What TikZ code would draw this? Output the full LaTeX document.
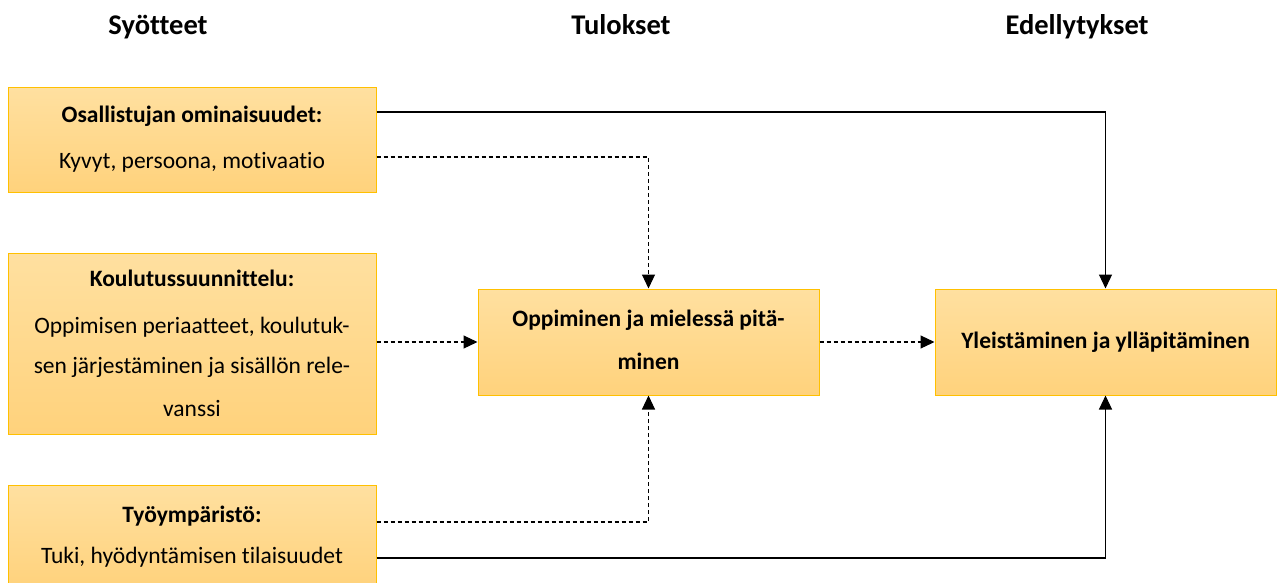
\documentclass[tikz,border=0pt]{standalone}
\usepackage{fontspec}
\setmainfont[Ligatures=NoCommon]{Carlito}
\usetikzlibrary{arrows.meta}
\definecolor{boxtop}{HTML}{FFE0A0}
\definecolor{boxbot}{HTML}{FFD27C}
\definecolor{boxline}{HTML}{FFC000}
\tikzset{
  box/.style={draw=boxline, line width=1pt, top color=boxtop, bottom color=boxbot,
    inner sep=0pt, align=center, font=\fontsize{23.5}{43}\selectfont},
  head/.style={anchor=base, font=\fontsize{28.5}{33}\selectfont\bfseries},
  conn/.style={line width=1.1pt, -{Triangle[length=14pt,width=13pt]}},
  dconn/.style={conn, dash pattern=on 4pt off 3pt}
}
\begin{document}
\begin{tikzpicture}[x=1pt,y=-1pt]
\useasboundingbox (0,0) rectangle (1284,582);
\clip (0,0) rectangle (1284,582);
% column headings
\node[head] (h1) at (158,34) {Syötteet};
\node[head] (h2) at (621,34) {Tulokset};
\node[head] (h3) at (1077,34) {Edellytykset};
% input boxes
\node[box, minimum width=368pt, minimum height=105pt] (b1) at (192,139.5)
  {\raisebox{3pt}{\textbf{Osallistujan ominaisuudet:}}\\Kyvyt, persoona, motivaatio};
\node[box, minimum width=368pt, minimum height=181pt] (b2) at (192,343.5)
  {\textbf{Koulutussuunnittelu:}\\[4pt]Oppimisen periaatteet, koulutuk-\\[-3pt]sen järjestäminen ja sisällön rele-\\vanssi};
\node[box, minimum width=368pt, minimum height=103pt] (b3) at (192,536.5)
  {\textbf{Työympäristö:}\\[-2pt]Tuki, hyödyntämisen tilaisuudet};
% outcome boxes
\node[box, minimum width=341pt, minimum height=106pt] (m) at (648.5,342)
  {\raisebox{4pt}{\textbf{Oppiminen ja mielessä pitä-}}\\\raisebox{4pt}{\textbf{minen}}};
\node[box, minimum width=341pt, minimum height=106pt] (r) at (1105.5,342)
  {\raisebox{3pt}{\textbf{Yleistäminen ja ylläpitäminen}}};
% connectors
\draw[conn] ([yshift=27.5pt]b1.east) -| (r.north);
\draw[dconn] ([yshift=-17.5pt]b1.east) -| (m.north);
\draw[dconn] (b2.east |- m.west) -- (m.west);
\draw[dconn] (m.east) -- (r.west);
\draw[dconn] ([yshift=14.5pt]b3.east) -| (m.south);
\draw[conn] ([yshift=-21.5pt]b3.east) -| (r.south);
\end{tikzpicture}
\end{document}
